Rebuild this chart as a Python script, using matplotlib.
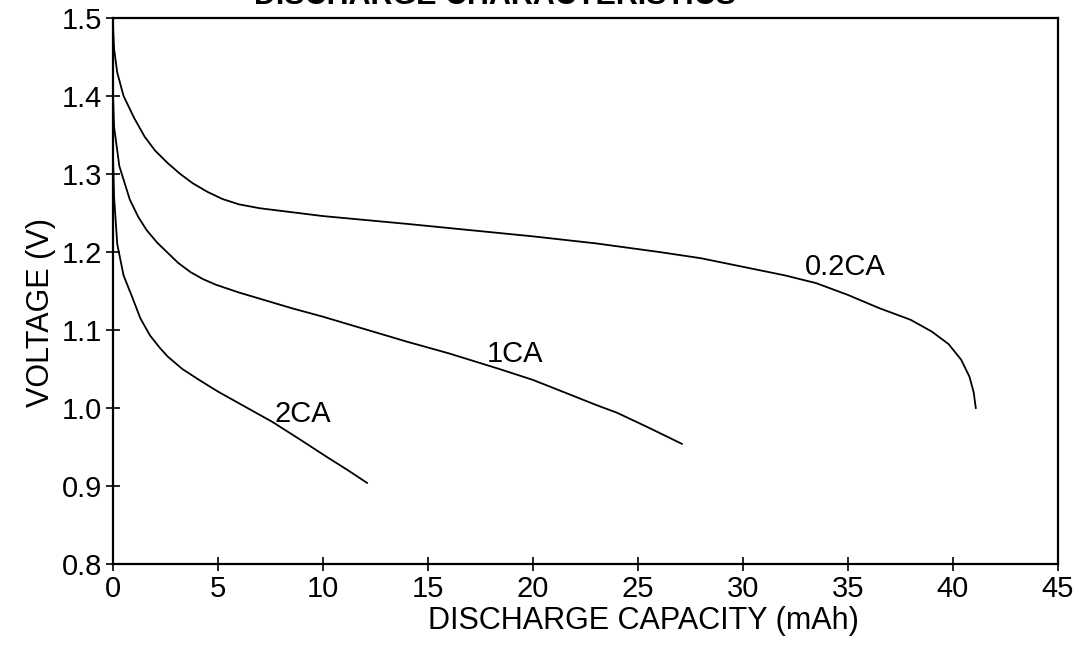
import matplotlib
matplotlib.use("Agg")
import matplotlib.pyplot as plt

plt.rcParams['font.family'] = ['Liberation Sans', 'DejaVu Sans']

# Discharge curves (capacity in mAh, voltage in V).
cap_02 = [0, 0.05, 0.2, 0.5, 1.0, 1.5, 2.0, 2.6, 3.2, 3.8, 4.5, 5.2, 6.0, 7.0, 8.5, 10, 12, 14, 17, 20, 23, 26, 28, 30, 32, 33.5, 35, 36.5, 38, 39, 39.8, 40.4, 40.8, 41.0, 41.1]
v_02 = [1.49, 1.46, 1.43, 1.40, 1.372, 1.348, 1.33, 1.314, 1.30, 1.288, 1.277, 1.268, 1.261, 1.256, 1.251, 1.246, 1.241, 1.236, 1.228, 1.22, 1.211, 1.20, 1.192, 1.181, 1.17, 1.16, 1.145, 1.128, 1.113, 1.098, 1.082, 1.062, 1.04, 1.02, 1.0]

cap_1 = [0, 0.05, 0.3, 0.8, 1.2, 1.6, 2.1, 2.6, 3.1, 3.7, 4.3, 4.9, 6.0, 7.0, 8.5, 10, 12, 14, 16, 18.4, 20, 21.6, 23, 24, 25.5, 27.1]
v_1 = [1.40, 1.36, 1.31, 1.267, 1.245, 1.228, 1.212, 1.199, 1.186, 1.174, 1.165, 1.158, 1.148, 1.140, 1.128, 1.117, 1.101, 1.085, 1.07, 1.05, 1.036, 1.019, 1.004, 0.994, 0.975, 0.954]

cap_2 = [0, 0.05, 0.2, 0.5, 0.9, 1.3, 1.76, 2.2, 2.6, 3.3, 4.1, 5.0, 6.0, 7.6, 9.0, 10.2, 11.2, 12.1]
v_2 = [1.32, 1.27, 1.21, 1.17, 1.143, 1.115, 1.093, 1.078, 1.066, 1.05, 1.036, 1.021, 1.006, 0.982, 0.958, 0.937, 0.92, 0.904]

# curve labels: text, x, y (baseline)
labels = [("0.2CA", 32.95, 1.17), ("1CA", 17.8, 1.059), ("2CA", 7.7, 0.982)]

xticks = [0, 5, 10, 15, 20, 25, 30, 35, 40, 45]
yticks = [0.8, 0.9, 1.0, 1.1, 1.2, 1.3, 1.4, 1.5]

fig = plt.figure(figsize=(10.87, 6.54), dpi=100)
ax = fig.add_axes([0.104, 0.1376, 0.869, 0.835])

for c, v in [(cap_02, v_02), (cap_1, v_1), (cap_2, v_2)]:
    ax.plot(c, v, color='black', lw=1.3)

for txt, x, y in labels:
    ax.text(x, y, txt, fontsize=21, ha='left', va='baseline')

ax.set_xlim(0, 45)
ax.set_ylim(0.8, 1.5)
ax.set_xticks(xticks)
ax.set_yticks(yticks)
ax.set_xticklabels([str(t) for t in xticks])
ax.set_yticklabels(["%.1f" % t for t in yticks])
ax.tick_params(direction='inout', length=10, width=1.2, labelsize=21, pad=3)

for s in ax.spines.values():
    s.set_linewidth(1.6)

ax.set_xlabel("DISCHARGE CAPACITY (mAh)", fontsize=22, x=0.562, labelpad=2)
ax.set_ylabel("VOLTAGE (V)", fontsize=22, y=0.46, labelpad=4)

# title is mostly cut off at the top of the picture, as in the scan
fig.text(0.455, 0.994, "DISCHARGE CHARACTERISTICS", fontsize=22, fontweight='bold',
         ha='center', va='baseline')

fig.savefig("out.png", dpi=100)
